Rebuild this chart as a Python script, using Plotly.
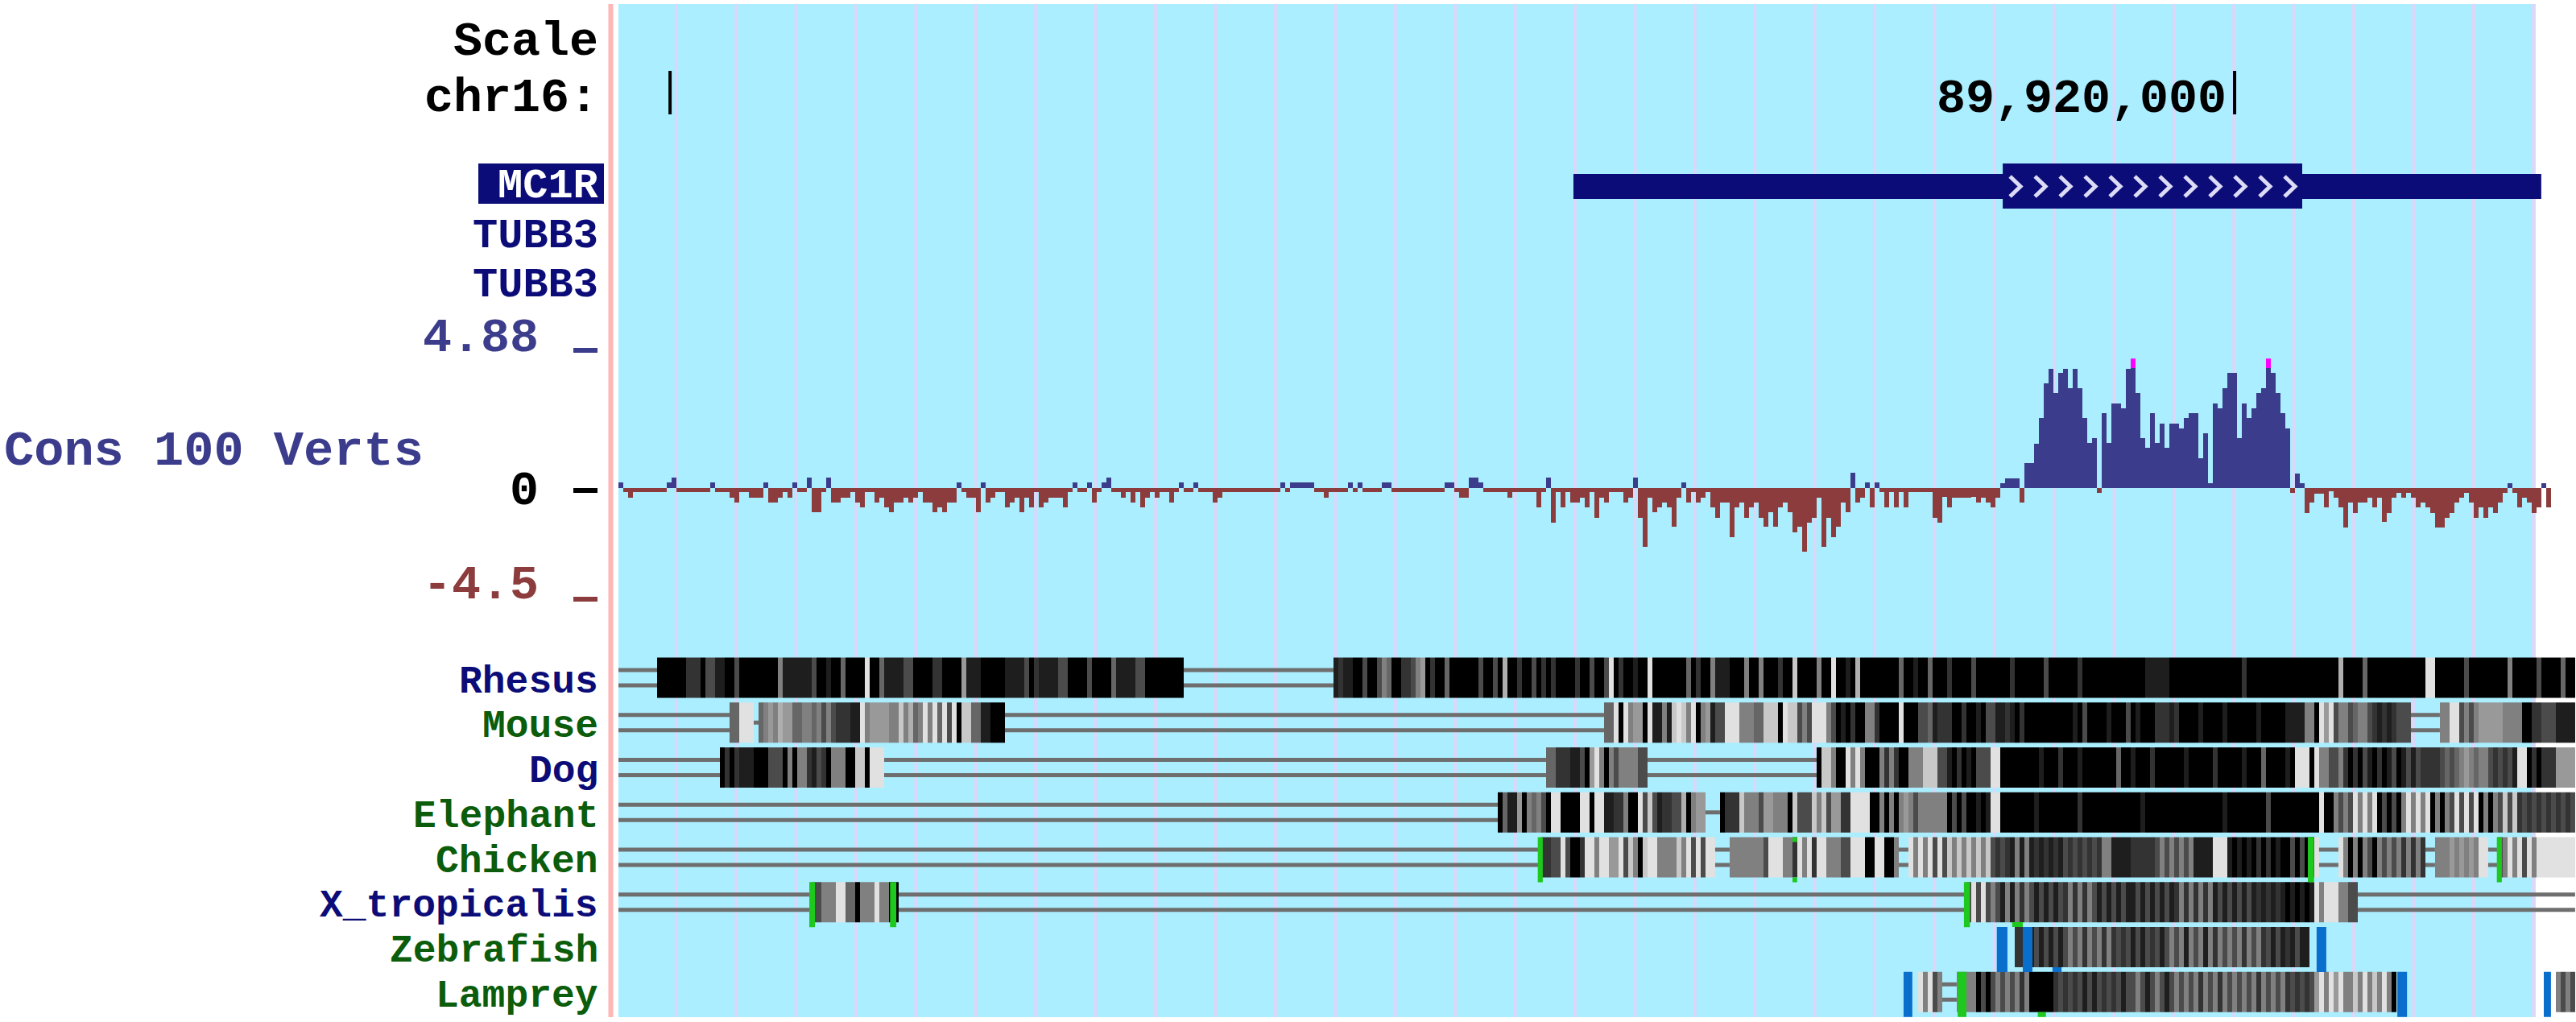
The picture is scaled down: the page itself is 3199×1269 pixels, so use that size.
import numpy as np
import plotly.graph_objects as go

W, H = 3199, 1269
PLOT_LEFT_PX = 768

# ---------------- genome window (chr16) ----------------
CHROM_LABEL = "chr16:"
VIEW_START = 89914835
VIEW_END = 89921091
HIGHLIGHT = (89914835, 89920962)
TICKS = [89915000, 89920000]
TICK_LABELS = ["", "89,920,000"]

# ---------------- gene track ----------------
GENE_LABELS = ["MC1R", "TUBB3", "TUBB3"]
MC1R_TX = (89917887, 89920980)
MC1R_CDS = (89919259, 89920216)
MC1R_CHEVRONS = 12

# ---------------- conservation (Cons 100 Verts) ----------------
CONS_BIN_BP = 15.44
CONS_VIEW = (-4.5, 4.88)
CONS_RUNS = [
    (1, 0.2), (1, -0.15), (1, -0.35), (7, -0.15), (1, 0.22), (1, 0.4), (7, -0.15), (1, 0.2), (3, -0.15),
    (1, -0.35), (1, -0.54), (2, -0.15), (3, -0.35), (1, 0.2), (2, -0.54), (1, -0.35), (1, -0.15), (1, -0.35),
    (1, 0.2), (2, -0.15), (1, 0.4), (2, -0.91), (1, -0.15), (1, 0.4), (2, -0.54), (2, -0.35), (1, -0.15),
    (1, -0.54), (1, -0.73), (2, -0.15), (1, -0.54), (1, -0.35), (1, -0.73), (1, -0.91), (2, -0.54), (1, -0.35),
    (1, -0.54), (1, -0.35), (1, -0.15), (2, -0.54), (1, -0.91), (1, -0.73), (1, -0.91), (2, -0.54), (1, 0.2),
    (1, -0.15), (2, -0.35), (1, -0.91), (1, 0.2), (1, -0.54), (1, -0.35), (2, -0.15), (1, -0.73), (1, -0.54),
    (1, -0.35), (1, -0.91), (1, -0.35), (1, -0.73), (1, -0.15), (1, -0.73), (1, -0.54), (3, -0.35), (1, -0.73),
    (1, -0.15), (1, 0.2), (2, -0.15), (1, 0.2), (1, -0.54), (1, -0.15), (1, 0.2), (1, 0.4), (2, -0.15),
    (1, -0.35), (1, -0.15), (1, -0.54), (1, -0.15), (1, -0.73), (1, -0.35), (1, -0.15), (1, -0.35), (2, -0.15),
    (1, -0.54), (1, -0.15), (1, 0.2), (2, -0.15), (1, 0.2), (3, -0.15), (1, -0.54), (1, -0.35), (10, -0.15),
    # middle
    (2, -0.15), (1, 0.2), (1, -0.15), (5, 0.2), (2, -0.15), (1, -0.35), (4, -0.15), (1, 0.2), (1, -0.15),
    (1, 0.2), (4, -0.15), (2, 0.2), (11, -0.15), (2, 0.2), (1, -0.15), (2, -0.35), (2, 0.4), (1, 0.2),
    (5, -0.15), (1, -0.35), (5, -0.15), (1, -0.73), (1, -0.15), (1, 0.4), (1, -1.29), (1, -0.15), (1, -0.73),
    (1, -0.15), (2, -0.54), (1, -0.35), (1, -0.73), (1, -0.15), (1, -1.11), (1, -0.35), (1, -0.54), (3, -0.15),
    (1, -0.54), (1, -0.35), (1, 0.4), (1, -1.11), (1, -2.22), (1, -0.35), (1, -0.91), (1, -0.73), (1, -0.54),
    (1, -0.73), (1, -1.46), (1, -0.35), (1, 0.2), (1, -0.54), (1, -0.15), (1, -0.54), (1, -0.35), (1, -0.15),
    (1, -0.73), (1, -1.11), (2, -0.54), (1, -1.84), (1, -0.73), (1, -0.54), (1, -1.11), (1, -0.73), (1, -0.54),
    (1, -1.11), (1, -1.46), (1, -0.91), (1, -1.46), (1, -0.73), (1, -0.54), (1, -0.91), (1, -1.67), (1, -1.46),
    (1, -2.4), (1, -1.29), (1, -1.11), (1, -0.35), (1, -2.22), (1, -1.11), (1, -1.84), (1, -1.46), (1, -0.54),
    (1, -0.91), (1, 0.58), (1, -0.54), (1, -0.35), (1, 0.2), (1, -0.73), (1, 0.2), (1, -0.15), (1, -0.73),
    (1, -0.15), (1, -0.73), (1, -0.15), (1, -0.73), (4, -0.15),
    # right (MC1R CDS peak)
    (1, -0.15), (1, -1.13), (1, -1.31), (1, -0.32), (1, -0.73), (4, -0.37), (1, -0.32), (1, -0.55), (1, -0.37),
    (1, -0.55), (1, -0.73), (1, -0.37), (1, 0.18), (3, 0.38), (1, -0.55), (2, 0.94), (1, 1.68), (1, 2.64),
    (1, 3.94), (1, 4.5), (1, 3.57), (1, 4.32), (1, 4.5), (1, 3.77), (1, 4.5), (1, 3.77), (1, 2.64), (1, 1.70),
    (1, 1.88), (1, -0.17), (1, 2.81), (1, 1.70), (2, 3.19), (1, 3.01), (1, 4.5), (1, 5.5), (1, 3.57), (1, 1.88),
    (1, 1.52), (1, 2.81), (1, 1.70), (1, 2.43), (1, 1.52), (2, 2.43), (1, 2.25), (1, 2.63), (2, 2.81), (1, 1.11),
    (1, 2.07), (1, 0.18), (1, 3.19), (1, 3.01), (1, 3.77), (2, 4.32), (1, 1.88), (1, 3.19), (1, 2.63), (1, 3.01),
    (1, 3.57), (1, 3.77), (1, 5.5), (1, 4.32), (1, 3.57), (1, 2.81), (1, 2.25), (1, -0.17), (1, 0.56), (1, 0.18),
    (1, -0.93), (1, -0.55), (2, -0.22), (1, -0.73), (1, -0.12), (1, -0.37), (1, -0.73), (1, -1.48), (1, -0.55),
    (1, -0.93), (2, -0.55), (1, -0.37), (1, -0.73), (1, -0.37), (1, -1.28), (1, -0.93), (1, -0.37), (1, -0.17),
    (1, -0.37), (1, -0.17), (1, -0.37), (1, -0.73), (1, -0.55), (1, -0.73), (1, -0.93), (2, -1.48), (1, -1.13),
    (1, -0.93), (1, -0.55), (1, -0.37), (1, -0.17), (1, -0.55), (1, -1.13), (1, -0.73), (1, -1.13), (1, -0.73),
    (1, -0.93), (1, -0.55), (1, -0.17), (1, 0.18), (1, -0.17), (1, -0.73), (1, -0.37), (1, -0.55), (1, -0.93),
    (1, -0.73), (1, 0.18), (1, -0.73),
]

# ---------------- multiz alignments ----------------
# one column = CONS_BIN_BP; digits = conservation shade (0 dark .. 9 light),
# '-' double line, '_' single line, '.' nothing ; "n*c" = c repeated n times
SPECIES = ["Rhesus", "Mouse", "Dog", "Elephant", "Chicken", "X_tropicalis", "Zebrafish", "Lamprey"]
SPECIES_COLOR = ["#0c0c78", "#0b5c0b", "#0c0c78", "#0b5c0b", "#0b5c0b", "#0c0c78", "#0b5c0b", "#0b5c0b"]
ALIGN = {
    "Rhesus": "8*- 000000 222 0 33 11 00 3 8*0 5 6*1 30 0100 4 0000 9 00 4 1111 33 0000 22 0000 6 111 00000 1111 3 0 2 1111 33 0000 3 0000 4 1111 33 8*0 31*- 12 1100 3 00 3 54 00 22 356 0200 4 6*0 3 00 3 0 7 00 2 00 3 0 2 0 2 0000 2 00 3 00 3 9 020 0100 9 7*0 4 0200 5 111 000 5 00 5 000200 8 0000 5 00 9 0010 7 8*0 4 00100 4 000 2 0000 3 7*0 2 6*0 3 6*0 2 13*0 5*1 15*0 2 19*0 7 0000 4 12*0 99 6*0 3 8*0 5 5*0 3 0000 4 00",
    "Mouse": "23*- 44 999 _ 4565 766 445 545353 2221 1 95 666655 857 459594939 0 88 44 11 000 124*- 44 9 0 9 566 0 9 11 5 1 898 5 9 0 56 1 33 999 555 44 888 0 9 88 353 999 53 010200 55 20 000 9 0003 341 222 0020010 33 11 21020 7*0 0010300001000301000 22212 0000100001000000100000 1111 55 0 969 35534553 21212 333 6*- 55 99 3535 66666 5555 00 22 333 1111",
    "Dog": "21*- 0202 111 000 333 05055 21320 555 00 88 09 99 137*- 44 222 11 3 0 6 9 5 0 5 3 5555 33 35*- 0885 00 9595 000 5252 00 555 888 331 02010 333 99 00000 00010002000100000004001000200000010000020000010004000010 999 0 9 55335 202031020130 1313 2222 3434 565455 323231 99 020 222 6666",
    "Elephant": "182*- 0 4 11 6 0 545 3 0 99 0000 99 0 99 11 22 5 00 9 3 8 3 1 22 33 7 0 5 66 3*_ 0 222 8 555 3 66 555 0 8 333 858 3 66 22 9999 005050 56535 55555 03030 0101 99 000000010000000020000000000001000000000000000010000000030000000000 9 00 5353 95959 03030 595959 0505 393939 0505 3838 232323232323",
    "Chicken": "191*- 2 2 33 9 3 00 2 99 5 99 66 9 3 8 5 0 8 99 5555 8 5 9 3 9 3 99 3*- 7*5 3 999 55 2 9 5 9 2 99 555 33 999 00 99 00 5 2*- 95959 393 858585858 3232 1515 1212121 32323232 55 1111 22222 35353535 1111 999 101010202010 0303 00 9 4*- 95050 53053535 25252 2*- 55 5656565 99 2*- 3 59593959 7*9",
    "X_tropicalis": "40*- 33 555 99 44 0 555 9 55 00 221*- 3939353 151525 3131313 252525 31313131 131313131 25252525 131313131 212121 010101 959 99 55 33 45*-",
    "Zebrafish": "289*. 22 11 313131 3535253525 23231313231 3535153515 25353525352 313121311 55*.",
    "Lamprey": "269*. 9593 5 3*- 5555 0303 5353525 00000 232323 1313232313 35313531353 53525352535 3535253535 232323 6959695 585958595 0 33*. 5353",
}
GREEN_MARKS = [
    ("Chicken", 89917773, 89917789, "full"),
    ("Chicken", 89918587, 89918602, "ends"),
    ("Chicken", 89920234, 89920254, "full"),
    ("Chicken", 89920838, 89920854, "full"),
    ("X_tropicalis", 89915445, 89915463, "full"),
    ("X_tropicalis", 89915703, 89915723, "full"),
    ("X_tropicalis", 89919135, 89919154, "full"),
    ("Zebrafish", 89919289, 89919323, "top"),
    ("Lamprey", 89919115, 89919143, "full"),
    ("Lamprey", 89919371, 89919397, "bottom"),
]
BLUE_MARKS = [
    ("Zebrafish", 89919240, 89919274, "full"),
    ("Zebrafish", 89919323, 89919354, "full"),
    ("Zebrafish", 89919418, 89919447, "bottom"),
    ("Zebrafish", 89920262, 89920293, "full"),
    ("Lamprey", 89918942, 89918970, "full"),
    ("Lamprey", 89920520, 89920551, "full"),
    ("Lamprey", 89920988, 89921011, "full"),
]

# ---------------- styling / layout constants ----------------
FONT = "Liberation Mono"
FS_BIG = 60      # Scale / chr16 / wiggle labels
FS_TITLE = 62    # track title
FS_GENE = 52     # gene labels
FS_ROW = 48      # species labels
NAVY = "#0c0c78"
CONS_POS = "#3c3c8c"
CONS_NEG = "#8c3c3c"
HL_COLOR = "#aaeeff"
GUIDE_COLOR = "#dcd6f8"
LINE_GRAY = "#6e6e6e"
GREEN = "#1ec81e"
BLUE = "#0a6ecc"
GRAY_LEVELS = [0, 30, 51, 75, 102, 128, 153, 175, 200, 225]

TRACK_TOP, TRACK_BOTTOM = 5, 1263
ROW_Y0, ROW_PITCH, HALF, LINE_OFF = 841.5, 55.75, 25, 9.5
CONS_ZERO_PX, CONS_PX_PER_UNIT = 606.3, 33.0
LABEL_RIGHT = 745

px_per_bp = (W - PLOT_LEFT_PX) / (VIEW_END - VIEW_START)


def decode_row(spec, n):
    parts = []
    for tok in spec.split():
        if "*" in tok:
            k, ch = tok.split("*")
            parts.append(ch * int(k))
        else:
            parts.append(tok)
    s = "".join(parts)
    return (s + "." * n)[:n]


def runs_of(row, ch):
    out, i = [], 0
    while i < len(row):
        if row[i] == ch:
            j = i
            while j < len(row) and row[j] == ch:
                j += 1
            out.append((i, j))
            i = j
        else:
            i += 1
    return out


fig = go.Figure()
shapes = []
annotations = []

# background highlight + guide lines
shapes.append(dict(type="rect", xref="x", yref="y", x0=HIGHLIGHT[0], x1=HIGHLIGHT[1],
                   y0=TRACK_TOP, y1=TRACK_BOTTOM, fillcolor=HL_COLOR, line=dict(width=0), layer="below"))
guide_step = 74.4 / px_per_bp
guide_first = VIEW_START - 2.5 / px_per_bp
for k in range(1, 33):
    gx = guide_first + k * guide_step
    shapes.append(dict(type="line", xref="x", yref="y", x0=gx, x1=gx, y0=TRACK_TOP, y1=TRACK_BOTTOM,
                       line=dict(color=GUIDE_COLOR, width=4), layer="below"))
# pink separator
shapes.append(dict(type="line", xref="paper", yref="y", x0=758.5 / W, x1=758.5 / W, y0=TRACK_TOP, y1=TRACK_BOTTOM,
                   line=dict(color="#ffb6b6", width=6), layer="below"))

# base position ticks
for t, lab in zip(TICKS, TICK_LABELS):
    shapes.append(dict(type="line", xref="x", yref="y", x0=t, x1=t, y0=88, y1=142,
                       line=dict(color="black", width=4)))
    if lab:
        annotations.append(dict(x=t, xref="x", y=123, yref="y", text=lab, showarrow=False,
                                xanchor="right", yanchor="middle", xshift=-8,
                                font=dict(family=FONT, size=FS_BIG, color="black", weight="bold")))

# MC1R gene model
shapes.append(dict(type="rect", xref="x", yref="y", x0=MC1R_TX[0], x1=MC1R_TX[1], y0=216, y1=247,
                   fillcolor=NAVY, line=dict(width=0), layer="below"))
shapes.append(dict(type="rect", xref="x", yref="y", x0=MC1R_CDS[0], x1=MC1R_CDS[1], y0=203, y1=259,
                   fillcolor=NAVY, line=dict(width=0), layer="below"))
cds_len = MC1R_CDS[1] - MC1R_CDS[0]
chev_w = 13 / px_per_bp
cx, cy = [], []
for i in range(MC1R_CHEVRONS):
    c = MC1R_CDS[0] + (i + 0.5) * cds_len / MC1R_CHEVRONS
    cx += [c - chev_w / 2, c + chev_w / 2, c - chev_w / 2, None]
    cy += [219, 231.5, 244, None]
fig.add_trace(go.Scatter(x=cx, y=cy, mode="lines", line=dict(color="#dcdcf6", width=5),
                         hoverinfo="skip", xaxis="x", yaxis="y"))

# conservation wiggle
vals = [v for n, v in CONS_RUNS for _ in range(n)]
xc = VIEW_START + (np.arange(len(vals)) + 0.5) * CONS_BIN_BP
hi = CONS_VIEW[1]
tip = 0.37
ydisp = [(hi - tip) if v > hi else v for v in vals]
cols = [CONS_POS if v > 0 else CONS_NEG for v in vals]
fig.add_trace(go.Bar(x=xc, y=ydisp, width=CONS_BIN_BP, marker=dict(color=cols, line=dict(width=0)),
                     hoverinfo="skip", xaxis="x", yaxis="y2"))
clip_x = [x for x, v in zip(xc, vals) if v > hi]
fig.add_trace(go.Bar(x=clip_x, y=[tip] * len(clip_x), base=[hi - tip] * len(clip_x), width=CONS_BIN_BP,
                     marker=dict(color="#ff00ff", line=dict(width=0)), hoverinfo="skip", xaxis="x", yaxis="y2"))

# alignments
ncell = int((VIEW_END - VIEW_START) // CONS_BIN_BP)
edges = VIEW_START + np.arange(ncell + 1) * CONS_BIN_BP
gray_scale = [[k / 9, f"rgb({g},{g},{g})"] for k, g in enumerate(GRAY_LEVELS)]
lx, ly = [], []
row_center = {}
for i, sp in enumerate(SPECIES):
    c = ROW_Y0 + i * ROW_PITCH
    row_center[sp] = c
    row = decode_row(ALIGN[sp], ncell)
    z = [[int(ch) if ch.isdigit() else None for ch in row]]
    fig.add_trace(go.Heatmap(x=edges, y=[c - HALF, c + HALF], z=z, colorscale=gray_scale, zmin=0, zmax=9,
                             showscale=False, hoverinfo="skip", zsmooth=False, xaxis="x", yaxis="y"))
    for a, b in runs_of(row, "-"):
        for yy in (c - LINE_OFF, c + LINE_OFF):
            lx += [edges[a], edges[b], None]
            ly += [yy, yy, None]
    for a, b in runs_of(row, "_"):
        lx += [edges[a], edges[b], None]
        ly += [c, c, None]
fig.add_trace(go.Scatter(x=lx, y=ly, mode="lines", line=dict(color=LINE_GRAY, width=5),
                         hoverinfo="skip", xaxis="x", yaxis="y"))


def mark_shapes(marks, color):
    for sp, a, b, kind in marks:
        c = row_center[sp]
        if kind == "full":
            spans = [(c - HALF, c + HALF + 6)]
        elif kind == "top":
            spans = [(c - HALF - 6, c - HALF)]
        elif kind == "bottom":
            spans = [(c + HALF, c + HALF + 6)]
        else:
            spans = [(c - HALF, c - HALF + 6), (c + HALF, c + HALF + 6)]
        for y0, y1 in spans:
            shapes.append(dict(type="rect", xref="x", yref="y", x0=a, x1=b, y0=y0, y1=y1,
                               fillcolor=color, line=dict(width=0), layer="above"))


mark_shapes(GREEN_MARKS, GREEN)
mark_shapes(BLUE_MARKS, BLUE)


# ---------------- left labels ----------------
def label(text, xpx, ypx, color, size, anchor="right"):
    annotations.append(dict(x=xpx / W, xref="paper", y=ypx, yref="y", text=text, showarrow=False,
                            xanchor=anchor, yanchor="middle",
                            font=dict(family=FONT, size=size, color=color, weight="bold")))


label("Scale", LABEL_RIGHT, 52, "black", FS_BIG)
label(CHROM_LABEL, LABEL_RIGHT, 122, "black", FS_BIG)
shapes.append(dict(type="rect", xref="paper", yref="y", x0=594 / W, x1=750 / W, y0=203, y1=253,
                   fillcolor=NAVY, line=dict(width=0)))
label(GENE_LABELS[0], LABEL_RIGHT + 1, 231, "white", FS_GENE)
label(GENE_LABELS[1], LABEL_RIGHT, 293, NAVY, FS_GENE)
label(GENE_LABELS[2], LABEL_RIGHT, 354, NAVY, FS_GENE)

label(f"{CONS_VIEW[1]:.2f}", 671, 420, CONS_POS, FS_BIG)
label("Cons 100 Verts", 3, 560, CONS_POS, FS_TITLE, anchor="left")
label("0", 671, 610, "black", FS_BIG)
label(f"{CONS_VIEW[0]:.1f}", 671, 727, CONS_NEG, FS_BIG)
for y0, y1, col in [(432, 438, CONS_POS), (606, 612, "black"), (741, 747, CONS_NEG)]:
    shapes.append(dict(type="rect", xref="paper", yref="y", x0=712 / W, x1=742 / W, y0=y0, y1=y1,
                       fillcolor=col, line=dict(width=0)))

for sp, col in zip(SPECIES, SPECIES_COLOR):
    label(sp, LABEL_RIGHT, row_center[sp] + 5, col, FS_ROW)

fig.update_layout(
    width=W, height=H, margin=dict(l=0, r=0, t=0, b=0),
    paper_bgcolor="white", plot_bgcolor="rgba(0,0,0,0)",
    showlegend=False, hovermode=False, barmode="overlay", bargap=0,
    xaxis=dict(range=[VIEW_START, VIEW_END], domain=[PLOT_LEFT_PX / W, 1], visible=False, fixedrange=True),
    yaxis=dict(range=[H, 0], domain=[0, 1], visible=False, fixedrange=True),
    yaxis2=dict(range=list(CONS_VIEW), anchor="x", visible=False, fixedrange=True,
                domain=[1 - (CONS_ZERO_PX - CONS_VIEW[0] * CONS_PX_PER_UNIT) / H,
                        1 - (CONS_ZERO_PX - CONS_VIEW[1] * CONS_PX_PER_UNIT) / H]),
    shapes=shapes, annotations=annotations,
)

fig.write_html("out.html", config={"displayModeBar": False},
               post_script="document.body.style.margin='0';document.body.style.overflow='hidden';")
